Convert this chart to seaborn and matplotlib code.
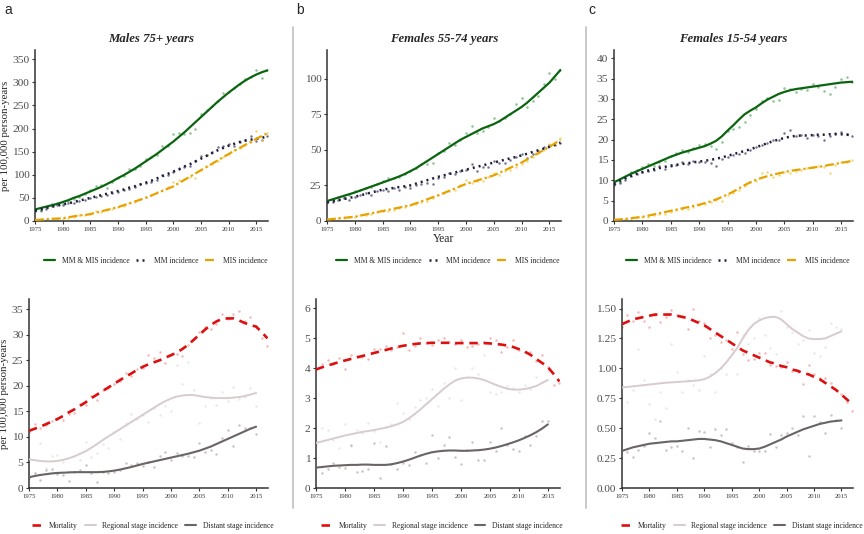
import numpy as np
import pandas as pd
import matplotlib
matplotlib.use("Agg")
import matplotlib.pyplot as plt
import seaborn as sns
from matplotlib.lines import Line2D

sns.set_style("ticks")
plt.rcParams['font.family'] = ['Liberation Serif', 'DejaVu Serif']

years = list(range(1975, 2018))
x_ticks = [1975, 1980, 1985, 1990, 1995, 2000, 2005, 2010, 2015]

titles = ["Males 75+ years", "Females 55-74 years", "Females 15-54 years"]
panel_letters = ["a", "b", "c"]
top_labels = ["MM & MIS incidence", "MM incidence", "MIS incidence"]
bottom_labels = ["Mortality", "Regional stage incidence", "Distant stage incidence"]

# ---------- Panel a (Males 75+) ----------
a_mmmis_fit = [25,28,31,34,37,41,45,50,54,59, 64,69,74,80,86,93,99,106,113,121,
               129,137,145,154,163,172,182,192,203,214, 225,236,247,258,268,278,287,296,304,311,
               317,322,326]
a_mmmis_pts = [23,21,30,36,40,38,44,48,52,58, 67,76,77,72,85,92,98,112,113,120,
               135,138,143,163,162,188,190,188,190,200, 231,240,248,260,277,280,288,296,308,312,
               327,310,326]
a_mm_fit = [22,25,28,31,33,36,38,41,44,47, 50,53,56,59,62,65,68,72,75,79,
            83,87,92,97,102,107,112,118,123,129, 135,141,147,153,158,163,167,171,174,176,
            178,180,183]
a_mm_pts = [21,24,27,32,34,35,39,40,43,46, 50,52,55,57,61,63,68,70,74,80,
            82,85,89,100,99,105,112,117,120,130, 140,143,150,160,162,167,162,172,175,185,
            174,175,185]
a_mis_fit = [2,3,4,5,5,6,8,10,12,13, 15,18,21,24,27,30,34,38,42,46,
             50,55,60,65,70,75,82,89,96,103, 110,117,124,131,138,145,152,158,165,171,
             178,184,190]
a_mis_pts = [1,2,3,5,6,5,7,9,12,14, 16,22,20,24,27,31,33,38,42,48,
             53,57,62,67,73,85,89,90,95,92, 110,118,124,130,138,145,153,158,165,170,
             195,175,190]

a_mort_fit = [11.2,11.6,12.0,12.5,13.0,13.5,14.1,14.8,15.4,16.1, 16.8,17.6,18.3,19.0,19.7,20.4,21.1,21.8,22.4,23.1,
              23.7,24.2,24.6,25.0,25.5,26.0,26.5,27.2,28.0,29.0, 30.0,31.0,31.9,32.6,33.1,33.2,33.2,32.8,32.3,31.9,
              31.6,30.5,29.3]
a_mort_pts = [11.0,12.5,11.8,12.3,13.1,13.5,13.4,14.5,14.7,16.4, 16.2,18.0,17.2,19.2,19.6,20.3,21.0,22.5,22.0,23.3,
              23.5,26.0,25.5,26.7,24.5,26.0,26.2,25.8,28.0,29.2, 30.5,31.6,31.1,32.1,34.0,33.1,34.0,34.7,32.7,33.5,
              31.7,29.3,27.8]
a_reg_fit = [5.6,5.45,5.3,5.2,5.2,5.3,5.5,5.8,6.2,6.7, 7.2,7.9,8.6,9.4,10.1,10.8,11.5,12.2,12.9,13.6,
             14.3,15.0,15.7,16.4,17.0,17.5,17.9,18.1,18.2,18.2, 18.0,17.8,17.7,17.6,17.6,17.6,17.7,17.8,18.0,18.3,
             18.6]
a_reg_pts = [5.5,3.0,8.8,4.0,6.2,6.5,5.0,3.3,6.3,5.5, 9.0,6.0,6.8,8.7,7.9,11.0,9.6,12.8,14.5,13.6,
             14.2,12.9,15.7,14.2,16.0,15.0,24.0,20.3,24.7,19.2, 12.8,16.0,17.6,16.3,18.7,17.0,19.7,17.4,17.8,19.5,
             16.0]
a_dist_fit = [2.1,2.35,2.55,2.7,2.85,2.95,3.0,3.05,3.1,3.1, 3.1,3.1,3.1,3.15,3.25,3.4,3.6,3.85,4.1,4.4,
              4.7,4.95,5.2,5.45,5.7,5.95,6.2,6.45,6.7,7.0, 7.3,7.7,8.1,8.6,9.1,9.6,10.1,10.6,11.1,11.6,
              12.0]
a_dist_pts = [2.0,2.9,1.6,3.6,3.7,2.8,2.5,1.3,3.2,3.5, 4.5,3.0,1.2,3.2,3.0,3.2,3.5,4.8,4.5,4.9,
              4.3,5.0,4.2,6.2,7.1,5.5,6.9,6.2,6.3,6.0, 8.9,7.0,7.5,6.7,9.8,11.3,8.2,12.4,11.7,11.8,
              10.5]

# ---------- Panel b (Females 55-74) ----------
b_mmmis_fit = [14,15.2,16.4,17.6,18.8,20,21.4,22.8,24.2,25.6, 27,28.4,29.8,31.3,33,35,37,39.5,42,44.5,
               47,49.5,52,54.5,57,59,61,63,65,66.5, 68,70,72.5,75,77.5,80,83,86.5,90,93.5,
               97,101.5,106]
b_mmmis_pts = [13,15,17,17,18,21,22,23,24,26, 28,30,30,31,33,35,37,40,40,41,
               48,49,55,53,57,62,67,62,63,66, 72,70,72,75,82,86,80,84,88,96,
               104,100,106]
b_mm_fit = [13,13.8,14.6,15.4,16.2,17,18,19,20,21, 22,22.6,23.2,23.8,24.4,25,26.2,27.4,28.6,29.8,
            31,32,33,34,35,36,37,38,39,40, 41,42,43,44,45,46,47.2,48.4,49.6,50.8,
            52,53.5,55]
b_mm_pts = [13,13,15,16,15,17,18,20,18,21, 22,21,23,22,24,23,25,26,27,26,
            30,31,34,33,35,36,40,35,38,38, 42,41,41,43,45,47,44,47,49,52,
            53,53,55]
b_mis_fit = [1,1.4,1.8,2.2,2.6,3,3.8,4.6,5.4,6.2, 7,7.8,8.6,9.4,10.2,11,12.4,13.8,15.2,16.6,
             18,19.6,21.2,22.8,24.4,26,27.2,28.4,29.6,30.8, 32,33.8,35.6,37.4,39.2,41,43.2,45.4,47.6,49.8,
             52,54.5,57]
b_mis_pts = [1,1,2,2,3,3,4,4,5,6, 7,7,8,9,10,11,12,13,14,16,
             18,20,21,22,25,29,27,28,28,31, 34,32,35,36,38,40,42,45,48,50,
             54,53,58]

b_mort_fit = [3.95,4.02,4.08,4.14,4.2,4.25,4.3,4.35,4.4,4.45, 4.5,4.55,4.6,4.65,4.7,4.74,4.77,4.8,4.82,4.83,
              4.84,4.84,4.84,4.84,4.83,4.83,4.83,4.83,4.83,4.83, 4.82,4.8,4.78,4.75,4.7,4.63,4.55,4.44,4.3,4.17,
              4.03,3.8,3.55]
b_mort_pts = [4.0,4.15,4.28,4.15,4.35,3.98,4.45,4.4,4.38,4.3, 4.62,4.65,4.72,4.6,4.7,5.18,4.6,4.75,5.0,4.85,
              4.78,4.95,5.0,4.88,4.8,4.93,4.7,4.75,4.8,4.87, 5.0,4.92,4.55,4.7,4.92,4.6,4.52,4.55,4.25,4.42,
              4.05,3.45,3.5]
b_reg_fit = [1.5,1.55,1.6,1.65,1.7,1.75,1.79,1.83,1.87,1.9, 1.93,1.97,2.01,2.06,2.12,2.2,2.32,2.46,2.62,2.79,
             2.96,3.13,3.3,3.45,3.58,3.65,3.68,3.68,3.65,3.6, 3.52,3.44,3.37,3.31,3.28,3.28,3.3,3.34,3.4,3.5,
             3.6]
b_reg_pts = [1.45,2.0,1.95,1.6,1.35,2.15,1.4,1.95,1.85,2.18, 1.9,1.55,2.05,2.15,2.85,2.5,2.3,2.7,2.95,3.0,
             3.3,2.75,3.5,3.0,4.0,2.95,3.7,4.0,3.8,4.45, 3.2,3.15,3.2,3.4,3.35,3.2,3.45,3.3,3.7,3.55,
             3.9]
b_dist_fit = [0.68,0.7,0.72,0.74,0.75,0.76,0.77,0.77,0.78,0.78, 0.77,0.77,0.77,0.79,0.83,0.88,0.94,1.01,1.08,1.14,
              1.19,1.22,1.24,1.25,1.25,1.24,1.24,1.25,1.26,1.28, 1.31,1.35,1.4,1.46,1.52,1.59,1.67,1.76,1.86,1.98,
              2.12]
b_dist_pts = [0.7,0.5,0.62,0.85,0.7,0.68,1.42,0.55,0.58,0.62, 1.5,0.33,1.4,0.8,0.62,0.85,0.76,1.2,1.1,0.85,
              1.78,1.0,1.45,1.7,1.05,0.8,1.28,1.55,0.92,0.92, 1.55,1.25,2.0,1.45,1.3,1.25,1.75,1.45,1.75,2.25,
              2.25]

# ---------- Panel c (Females 15-54) ----------
c_mmmis_fit = [9.5,10.2,10.9,11.6,12.2,12.8,13.4,14.0,14.6,15.2, 15.8,16.3,16.8,17.2,17.6,18.0,18.4,19.0,19.7,20.8,
               22.2,23.5,24.9,26.2,27.1,27.9,28.9,29.8,30.5,31.2, 31.7,32.1,32.4,32.6,32.8,33.0,33.2,33.4,33.6,33.8,
               34.0,34.1,34.2]
c_mmmis_pts = [9.2,9.5,10.5,12,12.5,13.2,14.1,13.5,14.4,14.8, 16.0,16.8,17.5,17.0,17.9,18.7,19.0,18.4,17.8,19.5,
               22.0,22.6,23.0,24.4,26.0,27.5,29.5,30.2,29.5,29.8, 32.7,32.5,31.6,32.3,32.2,33.6,33.0,31.9,31.2,32.9,
               35.0,35.3,34.2]
c_mm_fit = [9,9.8,10.5,11.1,11.6,12.0,12.4,12.7,13.0,13.3, 13.6,13.8,14.0,14.2,14.4,14.6,14.8,15.0,15.3,15.6,
            16.0,16.4,16.8,17.2,17.6,18.1,18.6,19.1,19.6,20.0, 20.4,20.7,20.9,21.0,21.0,21.1,21.2,21.2,21.3,21.3,
            21.3,21.2,21.0]
c_mm_pts = [8.8,9.4,10.0,11.0,11.5,12.0,12.2,12.6,13.5,12.8, 13.5,13.8,14.5,14.0,14.8,14.5,14.6,14.2,13.5,15.2,
            15.8,16.3,16.5,16.8,17.5,18.2,18.6,19.2,19.8,19.8, 21.5,22.3,20.8,21.2,20.4,21.1,21.0,20.0,20.8,21.6,
            21.9,21.3,20.8]
c_mis_fit = [0.3,0.4,0.5,0.7,0.85,1.0,1.3,1.6,1.9,2.2, 2.5,2.8,3.1,3.4,3.7,4.0,4.4,4.8,5.3,5.9,
             6.5,7.2,8.0,8.8,9.5,10.1,10.6,11.0,11.4,11.7, 12.0,12.3,12.5,12.7,12.9,13.1,13.3,13.5,13.8,14.0,
             14.3,14.5,14.8]
c_mis_pts = [0.3,0.4,0.6,0.6,0.9,1.1,0.9,1.5,1.8,1.7, 2.2,2.6,2.9,3.0,3.5,3.9,4.2,4.6,5.2,5.0,
             6.3,6.8,7.5,8.7,9.5,9.9,11.9,12.0,10.8,11.2, 12.0,11.7,12.3,12.5,13.0,13.2,13.5,13.3,11.9,13.8,
             14.6,14.4,14.9]

c_mort_fit = [1.37,1.39,1.41,1.42,1.43,1.44,1.45,1.45,1.45,1.45, 1.44,1.43,1.42,1.40,1.38,1.36,1.33,1.30,1.27,1.24,
              1.21,1.18,1.15,1.13,1.11,1.09,1.07,1.05,1.04,1.02, 1.01,0.99,0.98,0.96,0.95,0.93,0.91,0.88,0.85,0.82,
              0.78,0.74,0.70]
c_mort_pts = [1.35,1.45,1.40,1.47,1.40,1.35,1.45,1.39,1.43,1.49, 1.45,1.44,1.33,1.50,1.40,1.38,1.25,1.28,1.22,1.24,
              1.16,1.30,1.12,1.07,1.08,1.13,1.13,1.03,1.02,1.01, 1.05,0.98,0.97,0.87,1.03,0.95,0.92,0.92,0.88,0.82,
              0.79,0.72,0.64]
c_reg_fit = [0.84,0.845,0.85,0.855,0.86,0.865,0.87,0.875,0.88,0.883, 0.886,0.889,0.892,0.896,0.90,0.91,0.93,0.96,1.0,1.05,
             1.11,1.17,1.25,1.32,1.37,1.40,1.42,1.43,1.43,1.41, 1.37,1.33,1.30,1.27,1.25,1.245,1.245,1.25,1.27,1.29,
             1.31]
c_reg_pts = [0.85,0.72,0.82,1.16,0.9,0.7,0.58,0.8,0.67,1.2, 0.97,0.80,0.90,0.86,0.82,1.10,0.95,0.80,1.0,0.95,
             1.12,0.95,1.28,1.20,1.25,1.42,1.28,1.17,1.12,1.48, 1.35,1.3,1.2,1.24,1.32,1.13,1.1,1.18,1.38,1.35,
             1.33]
c_dist_fit = [0.31,0.325,0.34,0.35,0.36,0.37,0.375,0.38,0.385,0.39, 0.39,0.395,0.40,0.405,0.41,0.41,0.405,0.40,0.39,0.375,
              0.36,0.345,0.33,0.325,0.325,0.33,0.345,0.365,0.385,0.405, 0.43,0.45,0.47,0.49,0.505,0.52,0.535,0.545,0.555,0.56,
              0.565]
c_dist_pts = [0.32,0.30,0.26,0.32,0.35,0.46,0.42,0.56,0.32,0.34, 0.35,0.31,0.50,0.25,0.48,0.47,0.34,0.49,0.44,0.49,
              0.38,0.34,0.22,0.35,0.31,0.31,0.31,0.45,0.34,0.44, 0.46,0.50,0.44,0.60,0.27,0.60,0.55,0.46,0.61,0.57,
              0.50]

# ---------- styles ----------
top_styles = [
    dict(color="#0b6410", pt="#5aa85f", ls="-", lw=1.6),
    dict(color="#1e1e3c", pt="#3a3a60", ls=(0, (0.8, 1.6)), lw=1.8),
    dict(color="#e6a300", pt="#f2c840", ls=(0, (4, 1.3, 1, 1.3)), lw=1.6),
]
bottom_styles = [
    dict(color="#dd0f0f", pt="#f29a9a", ls=(0, (3.2, 2.2)), lw=1.9),
    dict(color="#d8cbcd", pt="#e6dfdf", ls="-", lw=1.4),
    dict(color="#6a6464", pt="#b2acac", ls="-", lw=1.5),
]

top_data = [
    [(a_mmmis_fit, a_mmmis_pts), (a_mm_fit, a_mm_pts), (a_mis_fit, a_mis_pts)],
    [(b_mmmis_fit, b_mmmis_pts), (b_mm_fit, b_mm_pts), (b_mis_fit, b_mis_pts)],
    [(c_mmmis_fit, c_mmmis_pts), (c_mm_fit, c_mm_pts), (c_mis_fit, c_mis_pts)],
]
bottom_data = [
    [(a_mort_fit, a_mort_pts), (a_reg_fit, a_reg_pts), (a_dist_fit, a_dist_pts)],
    [(b_mort_fit, b_mort_pts), (b_reg_fit, b_reg_pts), (b_dist_fit, b_dist_pts)],
    [(c_mort_fit, c_mort_pts), (c_reg_fit, c_reg_pts), (c_dist_fit, c_dist_pts)],
]

top_ylims = [(0, 370), (0, 120), (0, 42)]
top_yticks = [list(range(0, 351, 50)), [0, 25, 50, 75, 100], list(range(0, 41, 5))]
bottom_ylims = [(0, 37), (0, 6.3), (0, 1.58)]
bottom_yticks = [list(range(0, 36, 5)), list(range(0, 7)), [0, 0.25, 0.5, 0.75, 1.0, 1.25, 1.5]]
bottom_fmt = ["{:.0f}", "{:.0f}", "{:.2f}"]

W, H = 864, 534
fig = plt.figure(figsize=(W / 100, H / 100), dpi=100)

def rect(x0, x1, ytop, ybot):
    return [x0 / W, 1 - ybot / H, (x1 - x0) / W, (ybot - ytop) / H]

top_rects = [rect(35, 268, 50, 221), rect(327, 561, 50, 221), rect(614, 853, 50, 221)]
bot_rects = [rect(29, 268, 299, 488), rect(316, 560, 299, 488), rect(622, 853, 299, 488)]

def style_axes(ax, ylim, yticks, fmt):
    ax.set_xlim(1975, 2017.1)
    ax.set_ylim(*ylim)
    ax.set_xticks(x_ticks)
    ax.set_xticklabels([str(t) for t in x_ticks], fontsize=4.8, color="#333333")
    ax.set_yticks(yticks)
    ax.set_yticklabels([fmt.format(t) for t in yticks], fontsize=8.2, color="#4d4d4d")
    for s in ["top", "right"]:
        ax.spines[s].set_visible(False)
    for s in ["left", "bottom"]:
        ax.spines[s].set_color("#333333")
        ax.spines[s].set_linewidth(1.1)
    ax.tick_params(axis="both", length=2.5, width=0.8, color="#333333", pad=1.5)
    ax.set_xlabel("")
    ax.set_ylabel("")
    lg = ax.get_legend()
    if lg is not None:
        lg.remove()

def draw(ax, data, styles, labels):
    handles = []
    for (fit, pts), st, lab in zip(data, styles, labels):
        sns.scatterplot(x=years[:len(pts)], y=pts, ax=ax, color=st["pt"], s=3.2,
                        linewidth=0, alpha=0.7, legend=False, zorder=2)
        df = pd.DataFrame({"year": years[:len(fit)], "value": fit})
        sns.lineplot(data=df, x="year", y="value", ax=ax, color=st["color"],
                     linestyle=st["ls"], linewidth=st["lw"], legend=False, zorder=3)
        handles.append(Line2D([0], [0], color=st["color"], linestyle=st["ls"], linewidth=st["lw"], label=lab))
    return handles

leg_kw = dict(loc="center", ncol=3, frameon=False, fontsize=5.5, handlelength=1.4,
              handletextpad=0.9, columnspacing=0.9)

for i in range(3):
    ax = fig.add_axes(top_rects[i])
    h = draw(ax, top_data[i], top_styles, top_labels)
    style_axes(ax, top_ylims[i], top_yticks[i], "{:.0f}")
    ax.set_title(titles[i], fontsize=9.2, fontweight="bold", fontstyle="italic", pad=6)
    cx = top_rects[i][0] + top_rects[i][2] / 2
    fig.legend(handles=h, bbox_to_anchor=(cx + 4 / W, 1 - 261 / H), **leg_kw)
    if i == 0:
        ax.set_ylabel("per 100,000 person-years", fontsize=7.8, labelpad=2)
    if i == 1:
        ax.set_xlabel("Year", fontsize=8.4, labelpad=1)

    axb = fig.add_axes(bot_rects[i])
    hb = draw(axb, bottom_data[i], bottom_styles, bottom_labels)
    style_axes(axb, bottom_ylims[i], bottom_yticks[i], bottom_fmt[i])
    if i == 0:
        axb.set_ylabel("per 100,000 person-years", fontsize=7.8, labelpad=2)
    cxb = bot_rects[i][0] + bot_rects[i][2] / 2
    fig.legend(handles=hb, bbox_to_anchor=(cxb + 4 / W, 1 - 526 / H), **leg_kw)

for letter, x in zip(panel_letters, [4, 296, 588]):
    fig.text(x / W, 1 - 10 / H, letter, fontsize=10, family=["Liberation Sans", "DejaVu Sans"],
             va="center", ha="left")

for x in [293, 586]:
    fig.add_artist(Line2D([x / W, x / W], [1 - 27 / H, 1 - 508 / H], transform=fig.transFigure,
                          color="#c0c0c0", linewidth=1.2))

fig.savefig("out.png", dpi=100)
